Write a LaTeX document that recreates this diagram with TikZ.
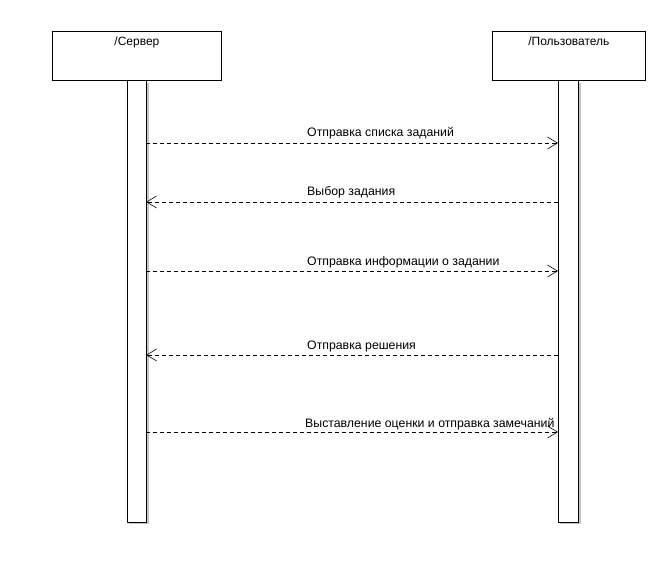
\documentclass[tikz,border=0pt]{standalone}
\usepackage{fontspec}
\setmainfont{Liberation Sans}
\usetikzlibrary{arrows.meta}
\begin{document}
\begin{tikzpicture}[x=1pt,y=-1pt,
  head/.style={draw=black,line width=0.8pt,fill=white,minimum height=49pt,inner sep=0pt},
  life/.style={draw=black,line width=0.8pt,fill=white},
  shadow/.style={fill=black!22,draw=none},
  msg/.style={dashed,dash pattern=on 4pt off 3pt,line width=0.6pt,-{Straight Barb[length=10pt,width=12pt,line width=0.6pt]}},
  lbl/.style={font=\fontsize{12.3}{14}\selectfont,anchor=base west,inner sep=0pt}]
\useasboundingbox (0,0) rectangle (667,569);
\fill[white] (0,0) rectangle (667,569);
% shadows
\fill[shadow] (146,83) rectangle (148.5,524);
\fill[shadow] (578,83) rectangle (580.5,524);
\fill[shadow] (129,522) rectangle (148.5,524);
\fill[shadow] (560,522) rectangle (580.5,524);
% lifelines
\draw[life] (127,80) rectangle (146,522);
\draw[life] (558,80) rectangle (578,522);
% header boxes
\node[head,minimum width=169pt,anchor=north west] (srv) at (52,31) {};
\node[head,minimum width=153pt,anchor=north west] (usr) at (492,31) {};
\node[font=\fontsize{12}{14}\selectfont,anchor=base,inner sep=0pt] (srvt) at ([yshift=-15pt]srv.north) {/Сервер};
\node[font=\fontsize{12}{14}\selectfont,anchor=base,inner sep=0pt] (usrt) at ([yshift=-15pt]usr.north) {/Пользователь};
% message endpoints
\foreach \n/\y in {1/143,2/202,3/271,4/355,5/432}{
  \coordinate (s\n) at (146,\y);
  \coordinate (u\n) at (558,\y);
}
\draw[msg] (s1) -- (u1);
\draw[msg] (u2) -- (s2);
\draw[msg] (s3) -- (u3);
\draw[msg] (u4) -- (s4);
\draw[msg] (s5) -- (u5);
\node[lbl] (l1) at (307,137) {Отправка списка заданий};
\node[lbl] (l2) at (307,196) {Выбор задания};
\node[lbl] (l3) at (307,266) {Отправка информации о задании};
\node[lbl] (l4) at (307,350) {Отправка решения};
\node[lbl] (l5) at (305,427) {Выставление оценки и отправка замечаний};
\end{tikzpicture}
\end{document}
